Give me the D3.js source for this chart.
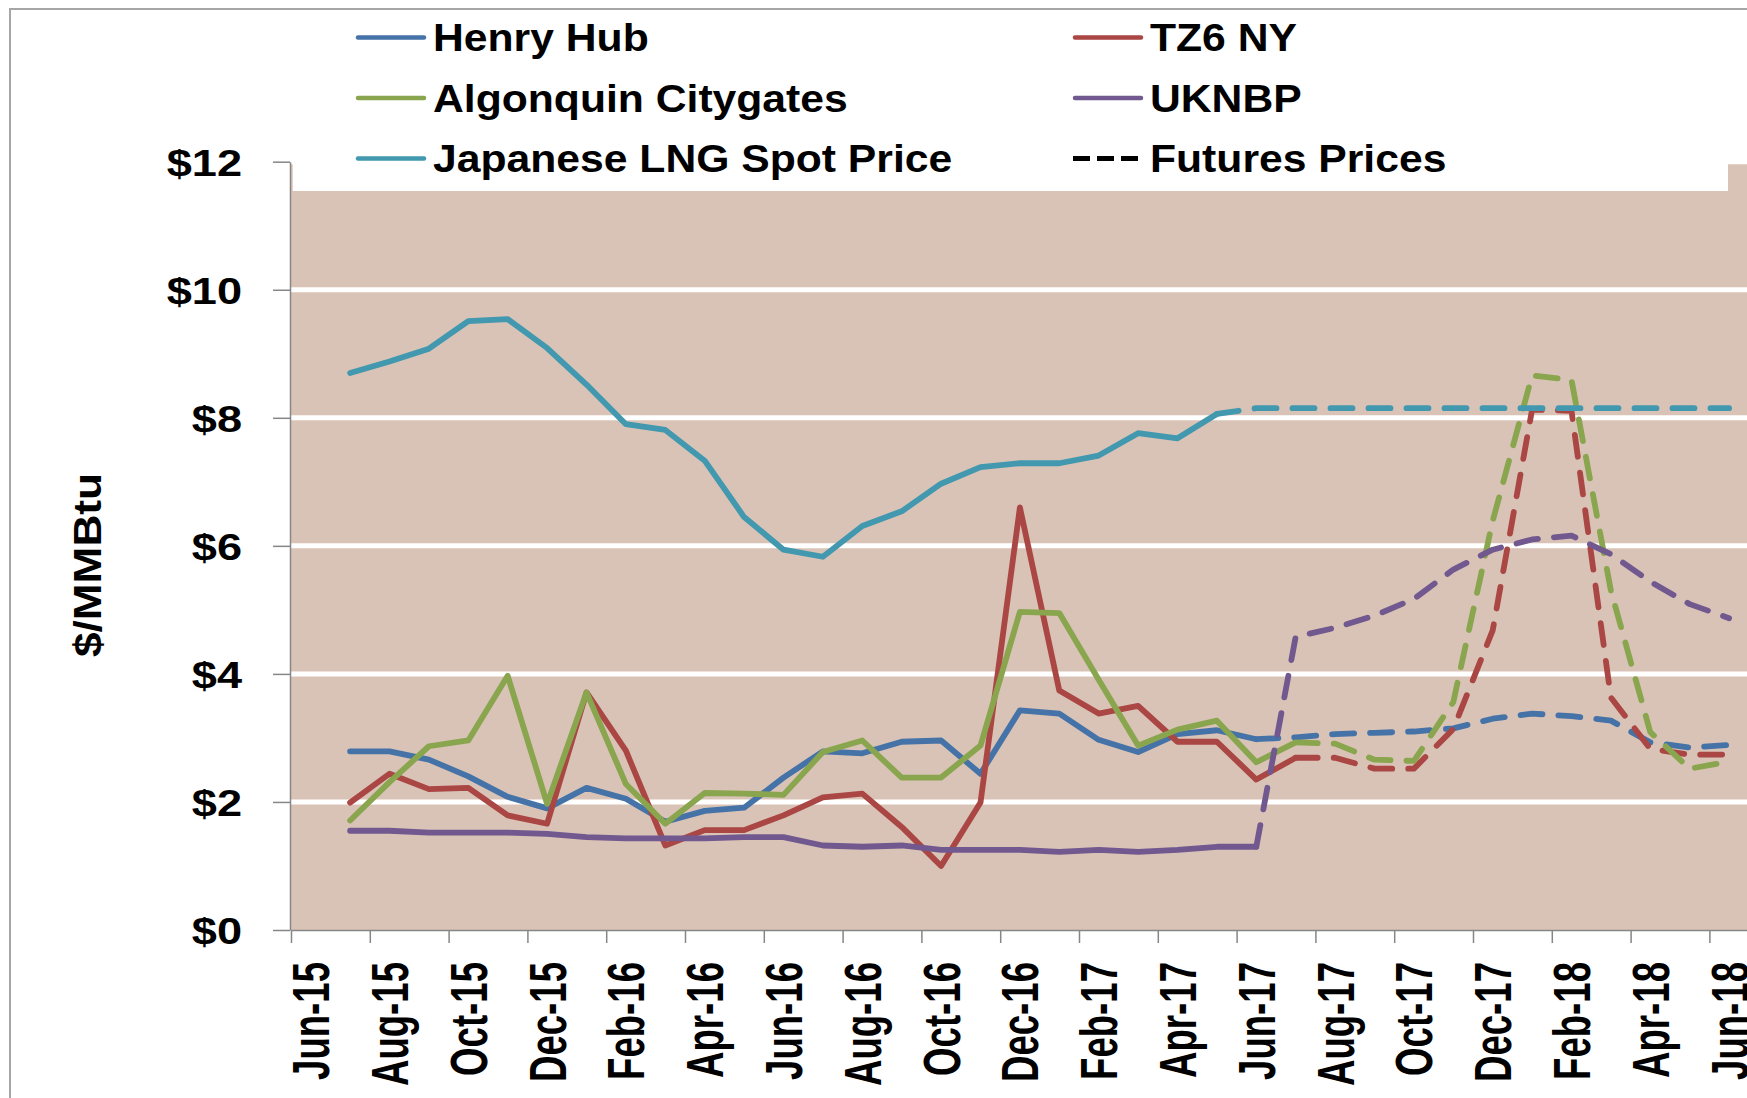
<!DOCTYPE html>
<html lang="en">
<head>
  <meta charset="UTF-8" />
  <title>Natural gas prices</title>
  <style>
    html, body {
      margin: 0; padding: 0;
      background: #fff;
      overflow: hidden;
    }
    svg { display: block; }
    text {
      font-family: "Liberation Sans", Arial, sans-serif;
      font-weight: bold;
      fill: #000;
    }
    .domain, .tick line { stroke: #868686; stroke-width: 1.5px; }
  </style>
  <script src="https://d3js.org/d3.v7.min.js"></script>
</head>
<body>
  <svg id="chart" width="1747" height="1098"></svg>

  <script>
    // months Jun-15 .. Jun-18
    const categories = [
      "Jun-15","Jul-15","Aug-15","Sep-15","Oct-15","Nov-15","Dec-15",
      "Jan-16","Feb-16","Mar-16","Apr-16","May-16","Jun-16","Jul-16","Aug-16","Sep-16","Oct-16","Nov-16","Dec-16",
      "Jan-17","Feb-17","Mar-17","Apr-17","May-17","Jun-17","Jul-17","Aug-17","Sep-17","Oct-17","Nov-17","Dec-17",
      "Jan-18","Feb-18","Mar-18","Apr-18","May-18","Jun-18"
    ];
    const yTicks = [0, 2, 4, 6, 8, 10, 12];

    // actual (solid) values, null where no data
    const henryHub = [null, 2.79, 2.79, 2.66, 2.40, 2.08, 1.90, 2.22, 2.05, 1.69, 1.86, 1.91, 2.38,
      2.79, 2.76, 2.94, 2.96, 2.44, 3.43, 3.38, 2.97, 2.78, 3.06, 3.12, 2.98];
    const tz6 = [null, 1.99, 2.44, 2.20, 2.22, 1.79, 1.66, 3.71, 2.80, 1.32, 1.56, 1.56, 1.79,
      2.07, 2.13, 1.61, 1.00, 1.99, 6.60, 3.74, 3.38, 3.50, 2.94, 2.94, 2.35, 2.69];
    const algonquin = [null, 1.71, 2.31, 2.87, 2.96, 3.97, 1.97, 3.71, 2.28, 1.66, 2.14, 2.13, 2.11,
      2.78, 2.96, 2.38, 2.38, 2.88, 4.97, 4.95, 3.91, 2.88, 3.13, 3.27, 2.62, 2.93];
    const uknbp = [null, 1.55, 1.55, 1.52, 1.52, 1.52, 1.50, 1.45, 1.43, 1.43, 1.43, 1.45, 1.45,
      1.32, 1.30, 1.32, 1.25, 1.25, 1.25, 1.22, 1.25, 1.22, 1.25, 1.30, 1.30];
    const lng = [null, 8.70, 8.88, 9.08, 9.51, 9.54, 9.09, 8.52, 7.90, 7.81, 7.33, 6.45, 5.94,
      5.83, 6.31, 6.54, 6.97, 7.23, 7.29, 7.29, 7.41, 7.76, 7.68, 8.06];

    // futures (dashed) values, padded with nulls at the front
    const pad = n => Array(n).fill(null);
    const henryHubFut = pad(24).concat([2.98, 3.01, 3.06, 3.08, 3.10, 3.15, 3.30, 3.38, 3.34, 3.27, 2.93, 2.85, 2.89]);
    const tz6Fut = pad(25).concat([2.69, 2.69, 2.52, 2.52, 3.14, 4.68, 8.13, 8.11, 3.63, 2.83, 2.74, 2.74]);
    const algonquinFut = pad(25).concat([2.93, 2.91, 2.66, 2.64, 3.56, 6.39, 8.66, 8.59, 5.30, 3.09, 2.52, 2.63]);
    const uknbpFut = pad(24).concat([1.30, 4.58, 4.72, 4.91, 5.17, 5.63, 5.94, 6.10, 6.16, 5.87, 5.44, 5.09, 4.87]);
    const lngFut = pad(23).concat([8.06, 8.15, 8.15, 8.15, 8.15, 8.15, 8.15, 8.15, 8.15, 8.15, 8.15, 8.15, 8.15, 8.15]);

    const series = [
      { name: "Henry Hub", color: "#4572A7", actual: henryHub, futures: henryHubFut },
      { name: "TZ6 NY", color: "#AA4643", actual: tz6, futures: tz6Fut },
      { name: "Algonquin Citygates", color: "#89A54E", actual: algonquin, futures: algonquinFut },
      { name: "UKNBP", color: "#71588F", actual: uknbp, futures: uknbpFut },
      { name: "Japanese LNG Spot Price", color: "#4198AF", actual: lng, futures: lngFut }
    ];

    const svg = d3.select("#chart");
    const plotLeft = 291, step = 39.4;
    const plotRight = plotLeft + step * categories.length;
    const plotTop = 161.7, plotBottom = 930;

    const x = d3.scalePoint().domain(categories).range([plotLeft, plotRight]).padding(0.5);
    const xb = d3.scaleLinear().domain([0, categories.length]).range([plotLeft, plotRight]);
    const y = d3.scaleLinear().domain([0, 12]).range([plotBottom, plotTop]);

    // stretch text horizontally by a factor (reference type is wide)
    function stretch(sel, k) {
      sel.each(function () {
        const w = this.getComputedTextLength();
        d3.select(this).attr("textLength", w * k).attr("lengthAdjust", "spacingAndGlyphs");
      });
    }

    // chart border
    svg.append("rect")
      .attr("x", 10).attr("y", 9)
      .attr("width", 1800).attr("height", 1200)
      .attr("fill", "#fff").attr("stroke", "#A6A6A6").attr("stroke-width", 2);

    // plot background
    svg.append("rect")
      .attr("x", plotLeft).attr("y", plotTop)
      .attr("width", plotRight - plotLeft).attr("height", plotBottom - plotTop)
      .attr("fill", "#D9C3B6");

    // gridlines
    svg.append("g")
      .selectAll("line")
      .data(yTicks.filter(d => d > 0))
      .join("line")
      .attr("x1", plotLeft).attr("x2", plotRight)
      .attr("y1", d => y(d)).attr("y2", d => y(d))
      .attr("stroke", "#fff").attr("stroke-width", 5);

    // legend box covers the top of the plot
    svg.append("rect")
      .attr("x", 292.7).attr("y", 12)
      .attr("width", 1728 - 292.7).attr("height", 191 - 12)
      .attr("fill", "#fff");

    // y axis
    const yAxis = svg.append("g")
      .attr("transform", `translate(${plotLeft - 1},0)`)
      .call(d3.axisLeft(y).tickValues(yTicks).tickFormat(d => "$" + d).tickSize(17).tickSizeOuter(0).tickPadding(31));
    yAxis.selectAll("text")
      .style("font-size", "37px")
      .attr("dy", "0.36em")
      .call(stretch, 1.22);

    // x axis
    svg.append("g")
      .attr("transform", `translate(0,${plotBottom})`)
      .call(d3.axisBottom(xb).tickValues(d3.range(0, categories.length, 2)).tickSize(13).tickSizeOuter(0).tickFormat(""));

    svg.append("g")
      .selectAll("text")
      .data(categories.filter((c, i) => i % 2 === 0))
      .join("text")
      .attr("transform", d => `translate(${x(d)},962) rotate(-90) scale(1,1.4)`)
      .attr("text-anchor", "end")
      .attr("dy", "0.36em")
      .style("font-size", "36.6px")
      .text(d => d);

    // y axis title
    svg.append("text")
      .attr("transform", "translate(87,565) rotate(-90)")
      .attr("text-anchor", "middle")
      .attr("dy", "0.36em")
      .attr("textLength", 184)
      .attr("lengthAdjust", "spacingAndGlyphs")
      .style("font-size", "39px")
      .text("$/MMBtu");

    // lines
    const line = d3.line()
      .defined(d => d != null)
      .x((d, i) => x(categories[i]))
      .y(d => y(d));

    const lines = svg.append("g").attr("fill", "none").attr("stroke-linejoin", "round");

    lines.selectAll(".actual")
      .data(series)
      .join("path")
      .attr("class", "actual")
      .attr("d", d => line(d.actual))
      .attr("stroke", d => d.color)
      .attr("stroke-width", 5.8)
      .attr("stroke-linecap", "round");

    lines.selectAll(".futures")
      .data(series)
      .join("path")
      .attr("class", "futures")
      .attr("d", d => line(d.futures))
      .attr("stroke", d => d.color)
      .attr("stroke-width", 5.8)
      .attr("stroke-linecap", "round")
      .attr("stroke-dasharray", "22 16");

    // legend
    const legendItems = [
      { name: "Henry Hub", color: "#4572A7", col: 0, row: 0 },
      { name: "TZ6 NY", color: "#AA4643", col: 1, row: 0 },
      { name: "Algonquin Citygates", color: "#89A54E", col: 0, row: 1 },
      { name: "UKNBP", color: "#71588F", col: 1, row: 1 },
      { name: "Japanese LNG Spot Price", color: "#4198AF", col: 0, row: 2 },
      { name: "Futures Prices", color: "#000", col: 1, row: 2, dashed: true }
    ];
    const colX = [356, 1073];
    const rowY = [51, 111.5, 172];

    const legend = svg.append("g");
    legend.selectAll("line")
      .data(legendItems)
      .join("line")
      .attr("x1", d => colX[d.col] + (d.dashed ? 0 : 2))
      .attr("x2", d => colX[d.col] + (d.dashed ? 65 : 68))
      .attr("y1", d => rowY[d.row] - 13.5)
      .attr("y2", d => rowY[d.row] - 13.5)
      .attr("stroke", d => d.color)
      .attr("stroke-width", d => d.dashed ? 5 : 4.5)
      .attr("stroke-linecap", d => d.dashed ? "butt" : "round")
      .attr("stroke-dasharray", d => d.dashed ? "17 7" : null);

    legend.selectAll("text")
      .data(legendItems)
      .join("text")
      .attr("x", d => colX[d.col] + 77)
      .attr("y", d => rowY[d.row])
      .style("font-size", "39.5px")
      .text(d => d.name)
      .call(stretch, 1.08);
  </script>
</body>
</html>
